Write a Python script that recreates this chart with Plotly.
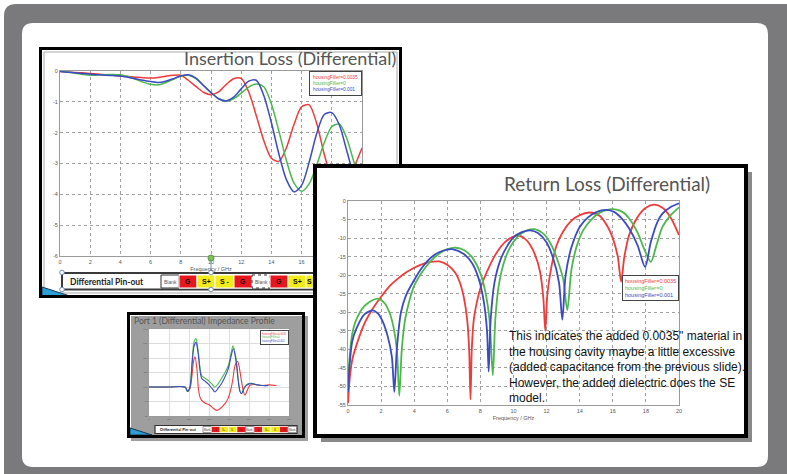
import plotly.graph_objects as go

W, H = 787, 474

# ---------------- data ----------------
series_names = ["housingFiller=0.0035", "housingFiller=0", "housingFiller=0.001"]

# Insertion loss (dB) vs frequency (GHz)
il_freq = [0, 0.5, 1, 1.5, 2, 2.5, 3, 3.5, 4, 4.5, 5, 5.5, 6, 6.5, 7, 7.5, 8, 8.5, 9, 9.5, 10,
           10.5, 11, 11.5, 12, 12.5, 13, 13.5, 14, 14.5, 15, 15.5, 16, 16.5, 17, 17.5, 18, 18.5, 19, 19.5, 20]
il_red = [-0.02, -0.03, -0.05, -0.06, -0.08, -0.10, -0.12, -0.14, -0.16, -0.18, -0.20, -0.22, -0.23, -0.21, -0.17,
          -0.14, -0.14, -0.30, -0.50, -0.69, -0.77, -0.68, -0.44, -0.25, -0.24, -0.68, -1.45, -2.26, -2.83, -2.93,
          -2.48, -1.73, -1.16, -1.10, -1.70, -2.70, -3.50, -3.90, -3.70, -3.10, -2.50]
il_green = [0.00, -0.03, -0.07, -0.11, -0.14, -0.13, -0.12, -0.11, -0.12, -0.18, -0.27, -0.36, -0.43, -0.45, -0.38,
            -0.27, -0.16, -0.14, -0.25, -0.47, -0.70, -0.90, -0.97, -0.90, -0.72, -0.52, -0.42, -0.51, -1.07, -1.96,
            -2.91, -3.64, -3.90, -3.66, -3.05, -2.33, -1.81, -1.72, -2.20, -3.00, -3.60]
il_blue = [-0.02, -0.04, -0.06, -0.08, -0.10, -0.12, -0.14, -0.15, -0.16, -0.20, -0.25, -0.30, -0.34, -0.37, -0.33,
           -0.25, -0.16, -0.12, -0.23, -0.47, -0.70, -0.90, -0.97, -0.85, -0.58, -0.33, -0.30, -0.80, -1.68, -2.70,
           -3.53, -3.92, -3.71, -2.96, -2.03, -1.41, -1.35, -1.75, -2.60, -3.40, -3.70]

# Return loss (dB)
rl_freq_red = [0, 0.1, 0.25, 0.5, 1, 1.5, 2, 2.5, 3, 3.5, 4, 4.5, 5, 5.5, 6, 6.5, 6.8, 7.0, 7.2, 7.32, 7.4, 7.48,
               7.6, 7.8, 8, 8.5, 9, 9.5, 10, 10.3, 10.7, 11, 11.3, 11.6, 11.8, 11.92, 12.05, 12.3, 12.6, 13, 13.5,
               14, 14.6, 15.2, 15.7, 16.0, 16.3, 16.5, 16.7, 17, 17.5, 18, 18.5, 19, 19.5, 20]
rl_red = [-54.5, -48, -43, -39, -33, -29, -25.8, -23, -21, -19.3, -18, -17, -16.4, -16.3, -17.2, -19.5, -22.5, -26,
          -32, -40, -53.5, -40, -32, -27, -23.5, -18, -13.8, -11, -9.6, -9.3, -10.2, -11.8, -14.5, -19, -26, -35,
          -25, -17.5, -12, -8.2, -5.3, -3.8, -3.1, -4.0, -7, -10, -15, -21.7, -15, -9, -4.3, -1.8, -1.0, -1.8,
          -4.5, -9.2]
rl_freq_green = [0, 0.1, 0.25, 0.5, 1, 1.5, 1.8, 2.2, 2.5, 2.75, 2.95, 3.1, 3.25, 3.45, 3.7, 4, 4.5, 5, 5.5, 6,
                 6.5, 7, 7.5, 8, 8.3, 8.55, 8.75, 8.9, 9.1, 9.5, 10, 10.5, 11.2, 11.8, 12.3, 12.7, 13.0, 13.25,
                 13.5, 13.8, 14.2, 14.7, 15.2, 16, 16.6, 17, 17.5, 17.9, 18.3, 18.6, 19, 19.5, 20]
rl_green = [-49, -42, -36, -32, -28.3, -26.7, -26.3, -27.5, -30, -34, -40, -52.5, -40, -32, -27, -22.8, -19, -16.2,
            -14.2, -13, -12.6, -13.2, -15.2, -19.5, -24.5, -32, -47, -32, -23, -15.5, -11, -8.7, -7.6, -8.8, -12,
            -16.5, -21, -29.4, -18.5, -12.5, -8, -5, -3.2, -2.2, -3, -4.8, -8.5, -13, -16.4, -12.5, -7, -3.8, -1.7]
rl_freq_blue = [0, 0.1, 0.25, 0.5, 1, 1.5, 1.8, 2.1, 2.4, 2.65, 2.8, 2.95, 3.2, 3.5, 4, 4.5, 5, 5.5, 6, 6.3, 7,
                7.5, 7.9, 8.2, 8.4, 8.5, 8.62, 8.85, 9.2, 9.6, 10, 10.5, 11, 11.5, 12, 12.4, 12.75, 12.95, 13.15,
                13.5, 14, 14.5, 15, 15.6, 16.1, 16.6, 17, 17.5, 17.95, 18.3, 18.7, 19, 19.5, 20]
rl_blue = [-51.5, -44, -38, -34.5, -30.5, -29.5, -30.3, -32.5, -36.5, -42, -51.5, -40, -30, -25.5, -21.3, -17.8,
           -15.3, -13.8, -13.1, -13, -14.3, -16.8, -21, -27, -35, -46, -32, -22, -16, -12.3, -9.8, -8.4, -7.9,
           -8.7, -11.2, -15.5, -22, -32, -20, -12.5, -7, -4.4, -3, -2.4, -3, -5, -7.5, -12, -17.8, -11, -5.6,
           -3.4, -1.6, -0.6]

# Impedance profile (ohm) vs time (ps)
imp_t_red = [0, 100, 180, 193, 205, 215, 222, 230, 240, 247, 255, 263, 280, 305, 320, 338, 355, 380, 395, 410, 420,
             427, 435, 443, 452, 463, 472, 480, 492, 505, 530, 560, 600, 638]
imp_red = [100, 100, 100, 97, 99, 108, 117, 120.8, 112, 99, 93, 90.8, 89, 87.3, 85.5, 83.9, 85, 88.5, 92, 98.9,
           106, 112.8, 116.5, 117.8, 113, 103.5, 97, 94.3, 98, 101.2, 101.7, 101, 101.5, 101]
imp_t_green = [0, 100, 180, 193, 205, 215, 225, 235, 245, 263, 280, 297, 315, 330, 345, 363, 380, 397, 410, 420,
               435, 447, 455, 463, 475, 490, 513, 540, 570, 597]
imp_green = [100, 100, 100, 97, 100, 117, 131, 133.5, 126, 108, 106, 104.5, 102, 100, 102, 106, 110, 115, 123,
             128.5, 120, 104, 97, 95.5, 99, 102, 102.5, 101.5, 101, 101]
imp_t_blue = [0, 100, 180, 193, 205, 215, 225, 235, 245, 263, 280, 297, 315, 330, 345, 363, 380, 397, 410, 422,
              435, 447, 455, 463, 475, 488, 513, 540, 570, 597]
imp_blue = [100, 100, 100, 97, 100, 115, 128, 130.8, 124, 106, 104, 102, 99, 96.6, 99, 102.4, 107, 112.8, 121,
            126.6, 118, 103.5, 97, 95.4, 99, 101.2, 102.4, 101.5, 101, 101]

# Tick labels
il_xticks = [0, 2, 4, 6, 8, 10, 12, 14, 16, 18, 20]
il_xlabels = ["0", "2", "4", "6", "8", "10", "12", "14", "16", "18", "20"]
il_yticks = [0, -1, -2, -3, -4, -5, -6]
il_ylabels = ["0", "-1", "-2", "-3", "-4", "-5", "-6"]
rl_yticks = [0, -5, -10, -15, -20, -25, -30, -35, -40, -45, -50, -55]
rl_ylabels = ["0", "-5", "-10", "-15", "-20", "-25", "-30", "-35", "-40", "-45", "-50", "-55"]
imp_xticks = [0, 100, 200, 300, 400, 500, 600, 700]
imp_xlabels = ["0", "100", "200", "300", "400", "500", "600", "700"]
imp_yticks = [80, 90, 100, 110, 120, 130, 140]
imp_ylabels = ["80", "90", "100", "110", "120", "130", "140"]

pin_cells_big = ["Blank", "G", "S+", "S -", "G", "Blank", "G", "S+", "S -", "G", "Blank"]
pin_cells_small = ["Blank", "G", "S+", "S-", "G", "Blank", "G", "S+", "S-", "G", "Blank"]

# ---------------- styling ----------------
RED, GREEN, BLUE = "#ee3b3b", "#4cb84c", "#3a4bc2"
COLORS = [RED, GREEN, BLUE]
PIN_FILL = {"G": "#e8171d", "S+": "#f2ec1c", "S -": "#f2ec1c", "S-": "#f2ec1c", "Blank": "#ffffff"}


def px(x):
    return x / W


def py(y):
    return 1 - y / H


def rrect_path(x0, y0, x1, y1, r):
    X = lambda v: f"{px(v):.5f}"
    Y = lambda v: f"{py(v):.5f}"
    return (f"M {X(x0 + r)},{Y(y0)} L {X(x1 - r)},{Y(y0)} Q {X(x1)},{Y(y0)} {X(x1)},{Y(y0 + r)} "
            f"L {X(x1)},{Y(y1 - r)} Q {X(x1)},{Y(y1)} {X(x1 - r)},{Y(y1)} "
            f"L {X(x0 + r)},{Y(y1)} Q {X(x0)},{Y(y1)} {X(x0)},{Y(y1 - r)} "
            f"L {X(x0)},{Y(y0 + r)} Q {X(x0)},{Y(y0)} {X(x0 + r)},{Y(y0)} Z")


fig = go.Figure()
layout = {}
shapes = []
annotations = []


def frame(n, x0, y0, x1, y1, lw):
    """Chart box drawn as its own subplot; range in pixel units."""
    ix0, iy0, ix1, iy1 = x0 + lw, y0 + lw, x1 - lw, y1 - lw
    common = dict(showticklabels=False, showgrid=False, zeroline=False, showline=True, mirror=True,
                  linecolor="black", linewidth=lw, ticks="", fixedrange=True)
    layout[f"xaxis{n}"] = dict(domain=[px(ix0), px(ix1)], range=[ix0, ix1], anchor=f"y{n}", **common)
    layout[f"yaxis{n}"] = dict(domain=[py(iy1), py(iy0)], range=[iy1, iy0], anchor=f"x{n}", **common)
    fig.add_trace(go.Scatter(x=[None], y=[None], xaxis=f"x{n}", yaxis=f"y{n}", showlegend=False,
                             hoverinfo="skip", mode="lines"))


def plot_axes(n, x0, y0, x1, y1, xr, yr, xt, xl, yt, yl, fs, gdash, gcolor, xtitle=None):
    ax = dict(showline=True, mirror=True, linecolor="#9a9a9a", linewidth=1, showgrid=True, gridcolor=gcolor,
              griddash=gdash, gridwidth=1, zeroline=False, ticks="", tickfont=dict(size=fs, color="#555",
              family="Liberation Sans"), fixedrange=True, ticklen=0)
    layout[f"xaxis{n}"] = dict(domain=[px(x0), px(x1)], range=xr, anchor=f"y{n}", tickmode="array",
                               tickvals=xt, ticktext=xl, **ax)
    if xtitle:
        layout[f"xaxis{n}"]["title"] = dict(text=xtitle, font=dict(size=fs, color="#555",
                                            family="Liberation Sans"), standoff=3)
    layout[f"yaxis{n}"] = dict(domain=[py(y1), py(y0)], range=yr, anchor=f"x{n}", tickmode="array",
                               tickvals=yt, ticktext=yl, **ax)


def add_lines(n, xs, ys, width):
    for x, y, c, name in zip(xs, ys, COLORS, series_names):
        fig.add_trace(go.Scatter(x=x, y=y, mode="lines", line=dict(color=c, width=width, shape="spline",
                                 smoothing=0.8), xaxis=f"x{n}", yaxis=f"y{n}", name=name, showlegend=False,
                                 hoverinfo="skip"))


def note(x, y, text, size, color, family="Liberation Sans", xanchor="center", yanchor="middle", **kw):
    annotations.append(dict(x=px(x), y=py(y), xref="paper", yref="paper", xanchor=xanchor, yanchor=yanchor,
                            text=text, showarrow=False, font=dict(size=size, color=color, family=family), **kw))


def legend_box(xr, yt, fs, pad):
    txt = "<br>".join(f"<span style='color:{c}'>{s}</span>" for c, s in zip(COLORS, series_names))
    note(xr, yt, txt, fs, "#333", xanchor="right", yanchor="top", align="left", bgcolor="white",
         bordercolor="#444", borderwidth=1, borderpad=pad)


# ---------- slide background ----------
shapes.append(dict(type="path", xref="paper", yref="paper", path=rrect_path(4, 4, 800, 490, 12),
                   fillcolor="#7a7a7c", line=dict(width=0), layer="below"))
shapes.append(dict(type="path", xref="paper", yref="paper", path=rrect_path(22, 23, 768, 467, 11),
                   fillcolor="#ffffff", line=dict(width=0), layer="below"))
# drop shadows
shapes.append(dict(type="rect", xref="paper", yref="paper", x0=px(321), x1=px(752), y0=py(172), y1=py(442),
                   fillcolor="rgba(40,40,40,0.55)", line=dict(width=0), layer="below"))
shapes.append(dict(type="rect", xref="paper", yref="paper", x0=px(131), x1=px(308), y0=py(316), y1=py(441),
                   fillcolor="rgba(40,40,40,0.45)", line=dict(width=0), layer="below"))

# ---------- Insertion loss chart ----------
frame(2, 39, 47, 402, 298, 3)
plot_axes(3, 60, 71, 362, 256, [0, 20], [-6, 0], il_xticks, il_xlabels, il_yticks, il_ylabels, 5.5,
          "dot", "#a0a0a0", "Frequency / GHz")
add_lines(3, [il_freq] * 3, [il_red, il_green, il_blue], 1.5)
shapes.append(dict(type="rect", xref="x2", yref="y2", x0=44, x1=397, y0=52, y1=293,
                   line=dict(color="#aaaaaa", width=1), layer="below"))
note(398, 58, "Insertion Loss (Differential)", 18, "#555555", family="Lato", xanchor="right")
legend_box(362, 71, 4.8, 3)

# pin-out strip (insertion chart)
shapes.append(dict(type="rect", xref="x2", yref="y2", x0=62, x1=330, y0=273, y1=289.5,
                   fillcolor="white", line=dict(color="#3a3a3a", width=2), layer="below"))
shapes.append(dict(type="path", xref="x2", yref="y2", path="M 42,287 L 76,298 L 42,298 Z",
                   fillcolor="#2a9fd6", line=dict(color="#1b3550", width=1), layer="below"))
note(68, 281.5, "<b>Differential Pin-out</b>", 8.5, "#222", family="Lato", xanchor="left")
cx = 161
big_w = [18, 18, 18, 19, 18, 18, 18, 18, 18, 18, 18]
for lab, w in zip(pin_cells_big, big_w):
    shapes.append(dict(type="rect", xref="x2", yref="y2", x0=cx, x1=cx + w, y0=275, y1=288,
                       fillcolor=PIN_FILL[lab],
                       line=dict(color="#333" if lab == "Blank" else "white", width=1,
                                 dash="dot" if cx > 250 and lab == "Blank" else "solid"),
                       layer="below"))
    if cx + w <= 313:
        if lab == "Blank":
            note(cx + w / 2, 281.5, lab, 5, "#555")
        else:
            note(cx + w / 2, 281.5, f"<b>{lab}</b>", 7, "#111")
    elif cx < 313:
        note(cx + 3.5, 281.5, "<b>S</b>", 7, "#111")
    cx += w

# selection handles
for (hx, hy) in [(62, 272.5), (62, 289.5), (211, 272.5), (211, 289.5)]:
    shapes.append(dict(type="circle", xref="paper", yref="paper", x0=px(hx - 2.3), x1=px(hx + 2.3),
                       y0=py(hy + 2.3), y1=py(hy - 2.3), fillcolor="white",
                       line=dict(color="#6a93b8", width=1), layer="above"))
shapes.append(dict(type="line", xref="paper", yref="paper", x0=px(211), x1=px(211), y0=py(260), y1=py(270),
                   line=dict(color="#6a93b8", width=1), layer="above"))
shapes.append(dict(type="circle", xref="paper", yref="paper", x0=px(208), x1=px(214), y0=py(261), y1=py(255),
                   fillcolor="#7cc05a", line=dict(color="#5a9a40", width=1), layer="above"))

# ---------- Impedance profile chart ----------
frame(4, 127, 312, 305, 438, 3)
plot_axes(5, 149, 329, 289, 416, [0, 700], [80, 140], imp_xticks, imp_xlabels, imp_yticks, imp_ylabels, 2.5,
          "solid", "#dddddd")
add_lines(5, [imp_t_red, imp_t_green, imp_t_blue], [imp_red, imp_green, imp_blue], 1.1)
note(132, 320.5, "Port 1 (Differential) Impedance Profile", 8.5, "#555555", family="Lato", xanchor="left")
legend_box(289, 329.5, 2.6, 1)
shapes.append(dict(type="path", xref="x4", yref="y4", path="M 130,428 L 152,435 L 130,435 Z",
                   fillcolor="#2a9fd6", line=dict(color="#1b3550", width=1), layer="below"))
shapes.append(dict(type="rect", xref="x4", yref="y4", x0=155, x1=297, y0=425.5, y1=433.5,
                   fillcolor="white", line=dict(color="#333", width=1.2), layer="below"))
note(158, 429.5, "<b>Differential Pin-out</b>", 4.2, "#222", family="Lato", xanchor="left")
cx = 203
for lab in pin_cells_small:
    shapes.append(dict(type="rect", xref="x4", yref="y4", x0=cx, x1=cx + 8.5, y0=426.5, y1=432.5,
                       fillcolor=PIN_FILL[lab], line=dict(color="#555" if lab == "Blank" else "white", width=0.6),
                       layer="below"))
    note(cx + 4.25, 429.5, lab, 2.6, "#333")
    cx += 8.5

# ---------- Return loss chart ----------
frame(6, 313, 164, 748, 438, 4)
plot_axes(7, 348, 201, 679, 405, [0, 20], [-55, 0], il_xticks, il_xlabels, rl_yticks, rl_ylabels, 5.5,
          "dot", "#a0a0a0", "Frequency / GHz")
add_lines(7, [rl_freq_red, rl_freq_green, rl_freq_blue], [rl_red, rl_green, rl_blue], 1.8)
note(502, 183, "Return Loss (Differential)", 19, "#555555", family="Lato", xanchor="left")
legend_box(679, 275, 5.5, 2)
note(507, 327,
     ("This indicates the added 0.0035\" material in<br>"
      "the housing cavity maybe a little excessive<br>"
      "(added capacitance from the previous slide).<br>"
      "However, the added dielectric does the SE<br>"
      "model."),
     12, "#111111", xanchor="left", yanchor="top", align="left")

fig.update_layout(
    template="none",
    width=W, height=H, autosize=False,
    margin=dict(l=0, r=0, t=0, b=0, pad=0),
    paper_bgcolor="white", plot_bgcolor="white",
    showlegend=False,
    shapes=shapes,
    annotations=annotations,
    **layout,
)

fig.write_html("out.html", config={"displayModeBar": False, "staticPlot": True},
               post_script="document.body.style.margin='0';document.body.style.overflow='hidden';")
